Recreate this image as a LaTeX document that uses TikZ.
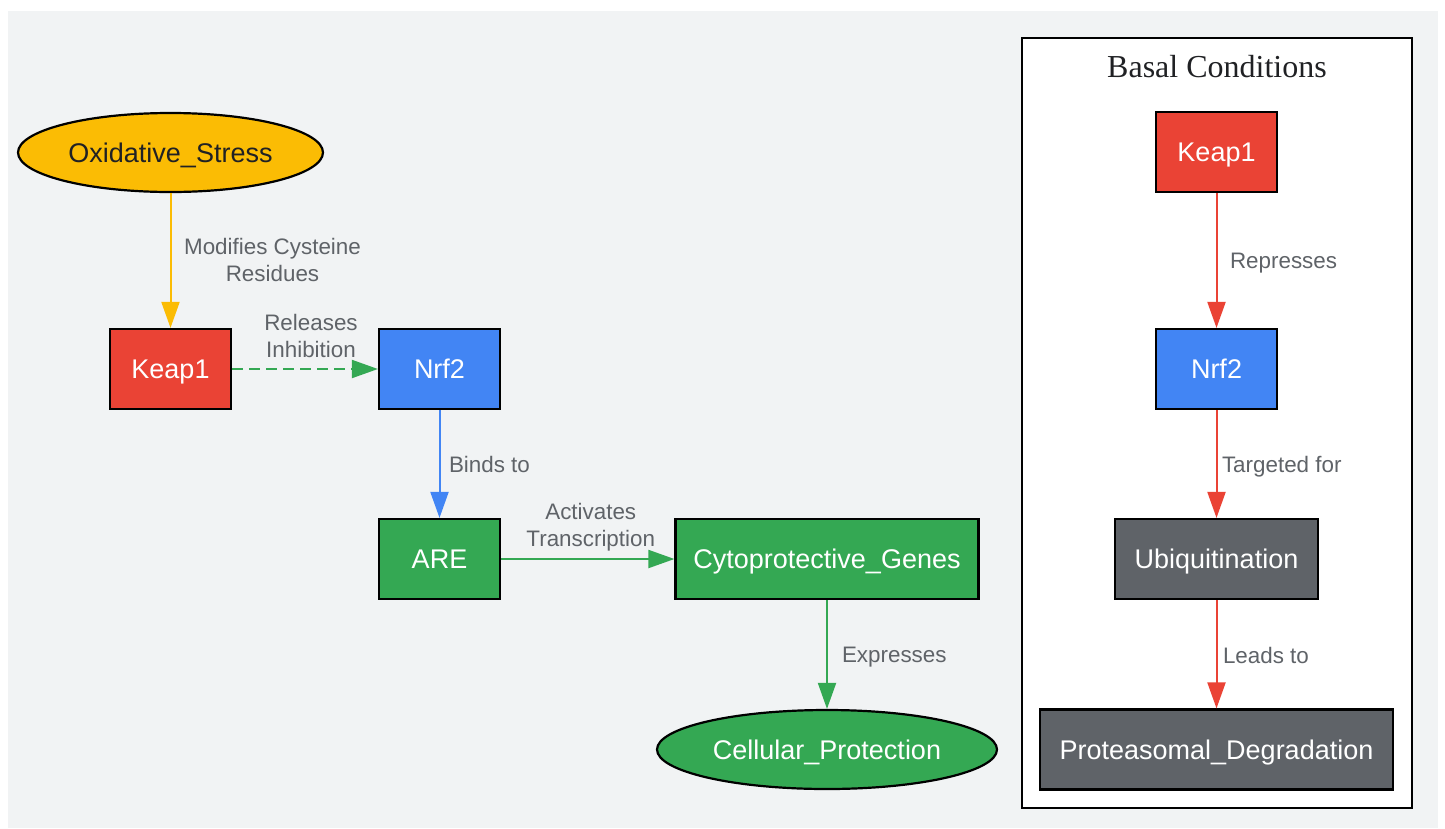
\documentclass[tikz,border=0pt]{standalone}
\usepackage{fontspec}
\setmainfont{Liberation Sans}
\newfontfamily\titlefont{Liberation Serif}
\usetikzlibrary{arrows.meta}
\usetikzlibrary{shapes.geometric}
\definecolor{canvas}{RGB}{241,243,244}
\definecolor{stressyellow}{HTML}{FBBC04}
\definecolor{keapred}{HTML}{EA4335}
\definecolor{nrfblue}{HTML}{4285F4}
\definecolor{aregreen}{HTML}{34A853}
\definecolor{degradegray}{HTML}{5F6368}
\definecolor{inkdark}{HTML}{202124}
\tikzset{genebox/.style={
		draw=black, line width=2.2pt, rectangle, inner sep=0pt,
		minimum height=80pt, text=white, text height=19.5pt, text depth=0pt,
		font=\fontsize{27}{32}\selectfont
}}
\tikzset{outcome/.style={
		draw=black, line width=2.2pt, ellipse, inner sep=0pt,
		minimum height=79pt, text=white, text height=19.5pt, text depth=0pt,
		font=\fontsize{27}{32}\selectfont
}}
\tikzset{signal/.style={
		line width=2pt, -{Triangle[length=26pt,width=18pt]}
}}
\tikzset{edgetag/.style={
		text=degradegray, inner sep=0pt, align=center,
		font=\fontsize{22.4}{27}\selectfont
}}
\tikzset{sidetag/.style={
		edgetag, anchor=west, text height=16pt, text depth=0pt
}}

\begin{document}
\begin{tikzpicture}[x=1pt,y=-1pt]
  \useasboundingbox (0,0) rectangle (1445,828);
  \fill[canvas] (8,11) rectangle (1438,828);
  \draw[line width=2pt, fill=white] (1022,38) rectangle (1412,808);
  \node[anchor=base, text=inkdark, font=\titlefont\fontsize{32}{38}\selectfont] (basal) at (1217,77) {Basal Conditions};

  \node[outcome, fill=stressyellow, text=inkdark, minimum width=305pt] (stress) at (170.5,152.5) {Oxidative\_Stress};
  \node[genebox, fill=keapred, minimum width=121pt] (keap) at (170.5,369) {Keap1};
  \node[genebox, fill=nrfblue, minimum width=121pt] (nrf) at (439.5,369) {Nrf2};
  \node[genebox, fill=aregreen, minimum width=121pt] (are) at (439.5,559) {ARE};
  \node[genebox, fill=aregreen, minimum width=303pt] (genes) at (827,559) {Cytoprotective\_Genes};
  \node[outcome, fill=aregreen, minimum width=340pt] (protect) at (827,749.5) {Cellular\_Protection};

  \node[genebox, fill=keapred, minimum width=121pt] (bkeap) at (1216.5,152) {Keap1};
  \node[genebox, fill=nrfblue, minimum width=121pt] (bnrf) at (1216.5,369) {Nrf2};
  \node[genebox, fill=degradegray, minimum width=203pt] (ubiq) at (1216.5,559) {Ubiquitination};
  \node[genebox, fill=degradegray, minimum width=353pt] (prot) at (1216.5,749.5) {Proteasomal\_Degradation};

  \draw[signal, color=stressyellow] (stress) -- (keap) node[edgetag, midway, xshift=102pt, yshift=1pt] {Modifies Cysteine\\Residues};
  \draw[signal, color=aregreen, dash pattern=on 11pt off 6pt] (keap) -- (nrf) node[edgetag, midway, xshift=6pt, yshift=33pt] {Releases\\Inhibition};
  \draw[signal, color=nrfblue] (nrf) -- (are) node[sidetag, midway, xshift=8.5pt] {Binds to};
  \draw[signal, color=aregreen] (are) -- (genes) node[edgetag, midway, xshift=3pt, yshift=31.5pt] {Activates\\Transcription};
  \draw[signal, color=aregreen] (genes) -- (protect) node[sidetag, midway, xshift=14pt] {Expresses};

  \draw[signal, color=keapred] (bkeap) -- (bnrf) node[sidetag, midway, xshift=12.5pt] {Represses};
  \draw[signal, color=keapred] (bnrf) -- (ubiq) node[sidetag, midway, xshift=4.5pt] {Targeted for};
  \draw[signal, color=keapred] (ubiq) -- (prot) node[sidetag, midway, xshift=5.5pt, yshift=-1.5pt] {Leads to};
\end{tikzpicture}
\end{document}
